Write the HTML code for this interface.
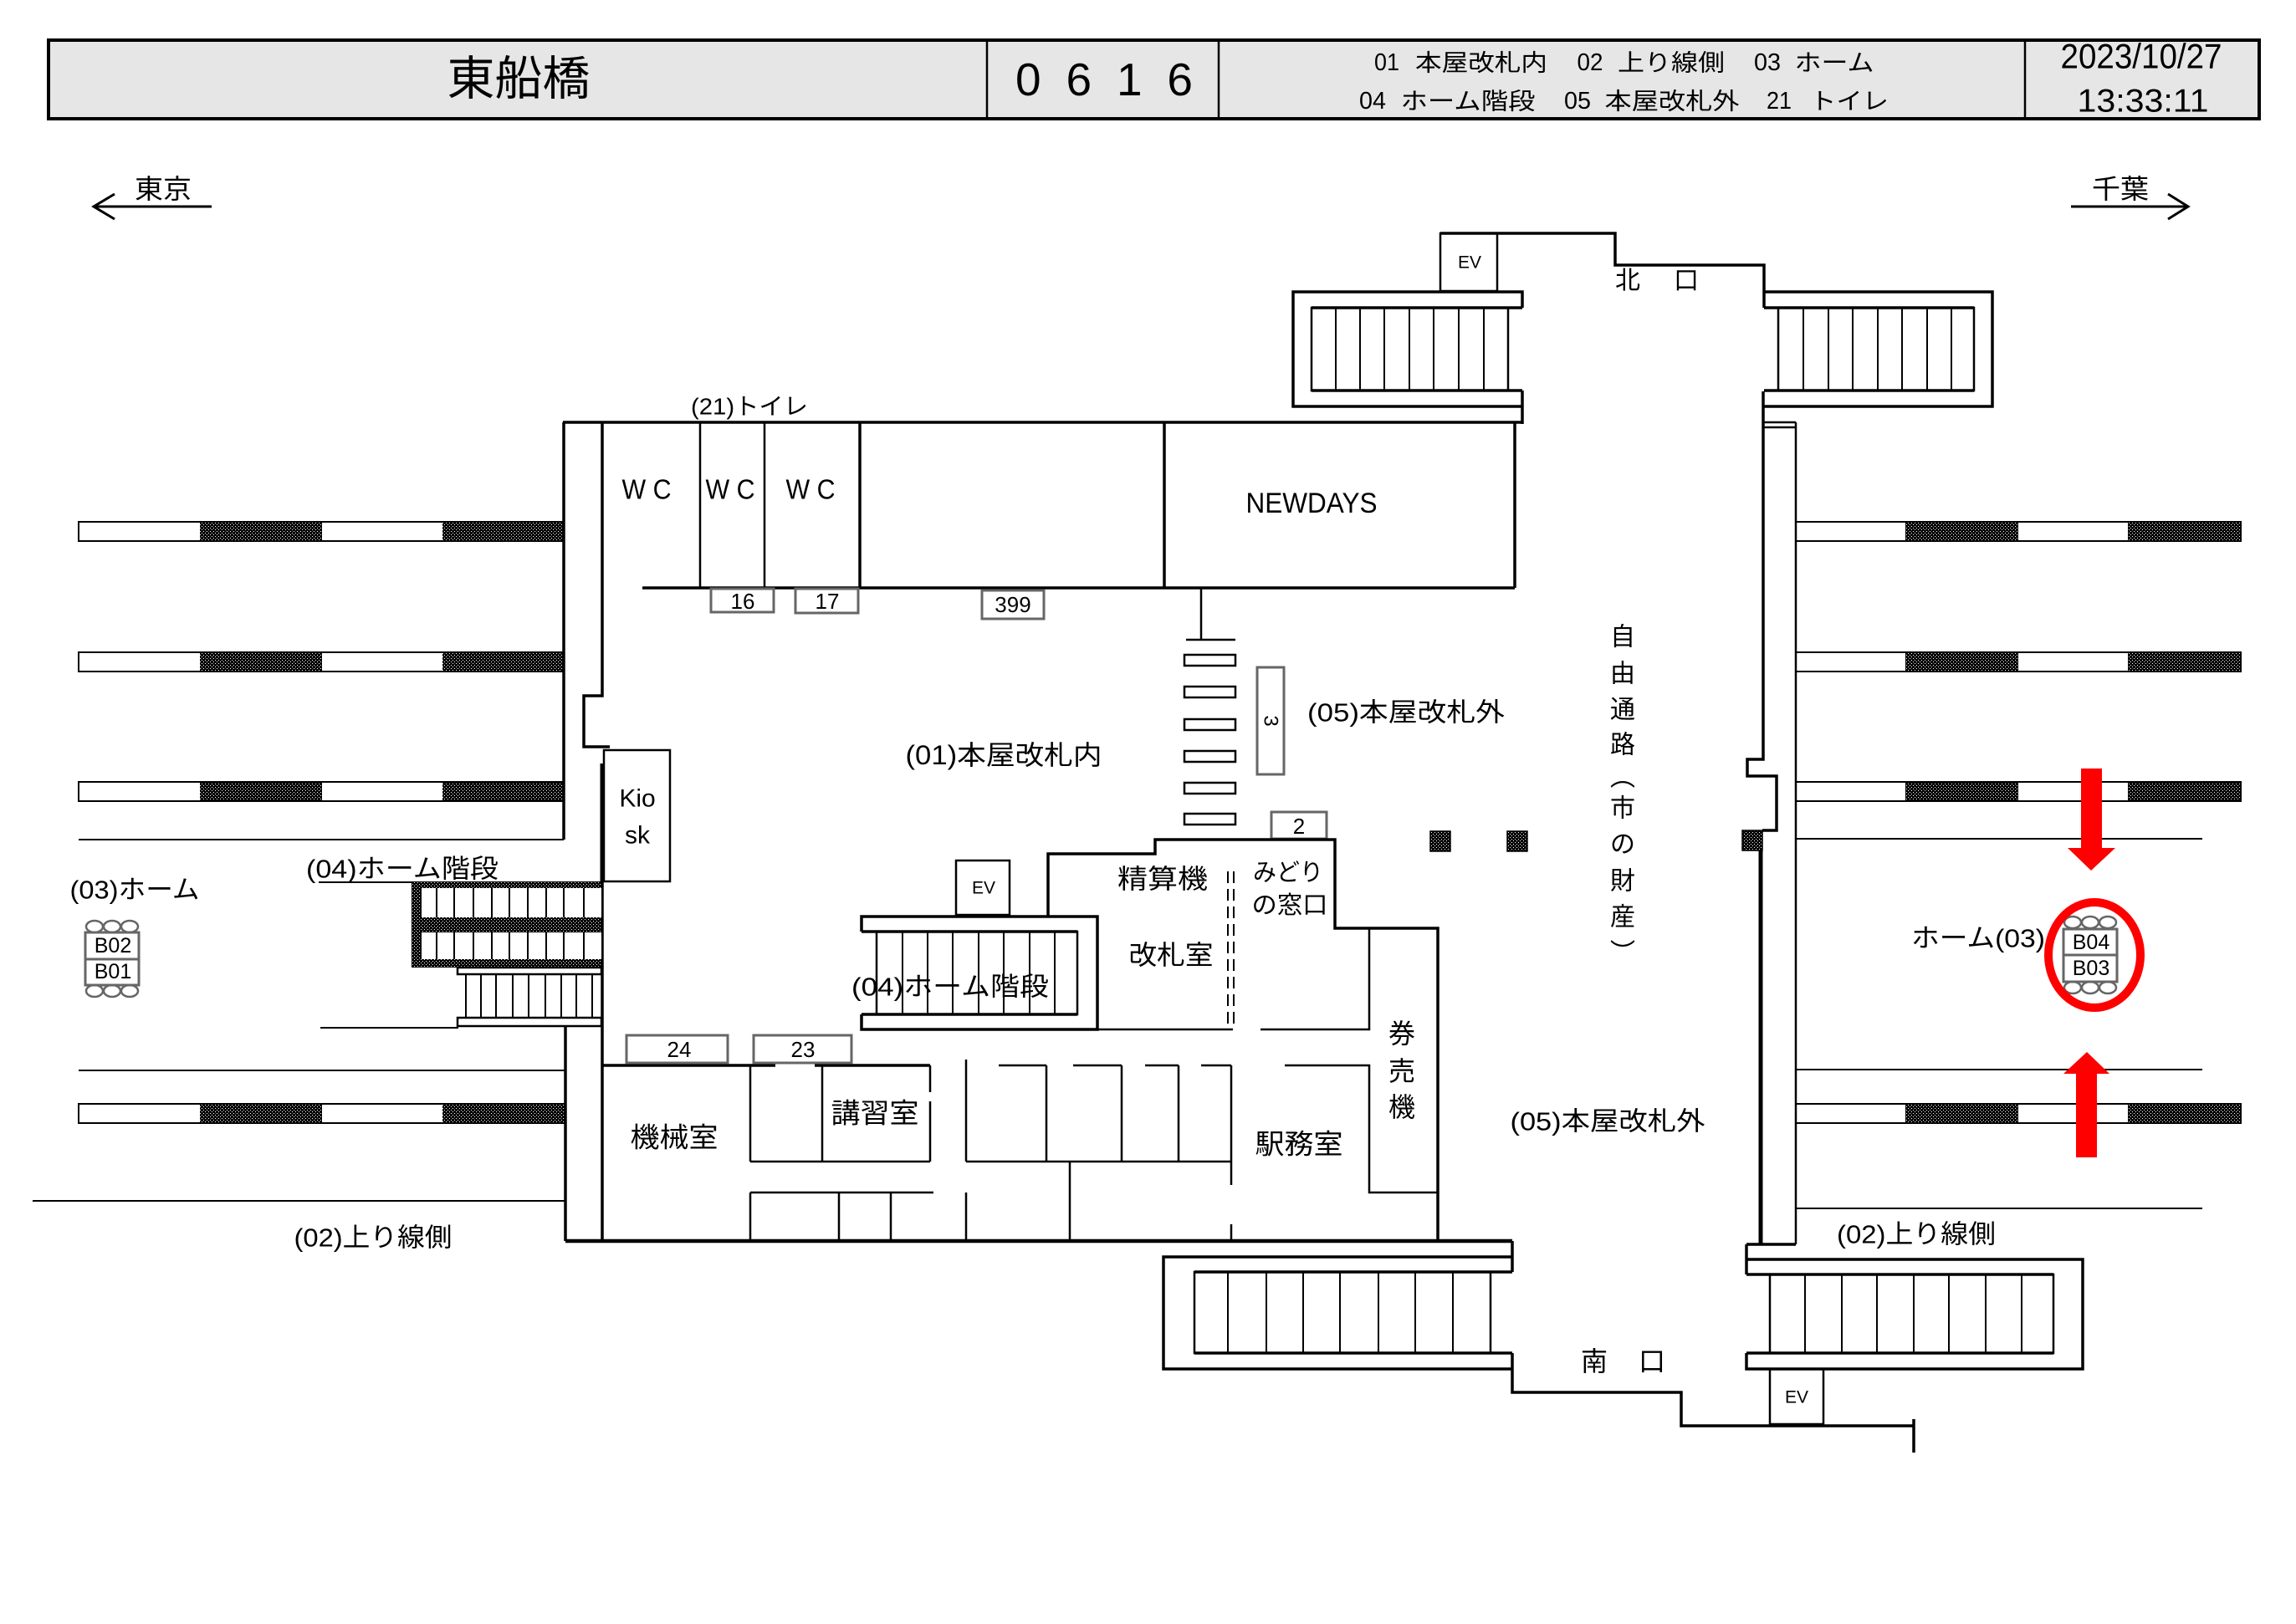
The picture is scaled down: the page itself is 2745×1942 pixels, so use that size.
<!DOCTYPE html>
<html><head><meta charset="utf-8"><style>
html,body{margin:0;padding:0;background:#fff;}
svg{display:block}
text{font-family:"Liberation Sans","Noto Sans CJK JP",sans-serif;fill:#000;text-anchor:middle;dominant-baseline:central;}
.w{stroke:#000;stroke-width:3.5;fill:none}
.n{stroke:#000;stroke-width:2.5;fill:none}
.nf{stroke:#000;stroke-width:2.5;fill:#fff}
.g{stroke:#666;stroke-width:3;fill:#fff}
.s{stroke:#000;stroke-width:2;fill:none}
</style></head><body>
<svg width="2745" height="1942" viewBox="0 0 2745 1942" xmlns="http://www.w3.org/2000/svg">
<defs>
<pattern id="h" width="4" height="4" patternUnits="userSpaceOnUse">
<rect width="4" height="4" fill="#000"/><rect x="1" y="1" width="1" height="1" fill="#fff"/><rect x="3" y="3" width="1" height="1" fill="#fff"/>
</pattern>
</defs>

<!-- HEADER -->
<rect x="58" y="48" width="2643" height="94" fill="#e6e6e6" stroke="#000" stroke-width="4"/>
<path class="n" d="M1180 48V142 M1457 48V142 M2421 48V142"/>
<text x="620" y="94" font-size="56" textLength="171" lengthAdjust="spacingAndGlyphs">東船橋</text>
<text x="1320" y="95" font-size="55" textLength="212" lengthAdjust="spacing">0616</text>
<g font-size="28">
<text x="1658" y="75" font-size="29" textLength="30" lengthAdjust="spacingAndGlyphs">01</text>
<text x="1771" y="75" textLength="158" lengthAdjust="spacingAndGlyphs">本屋改札内</text>
<text x="1901" y="75" font-size="29" textLength="31" lengthAdjust="spacingAndGlyphs">02</text>
<text x="1998" y="75" textLength="128" lengthAdjust="spacingAndGlyphs">上り線側</text>
<text x="2113" y="75" font-size="29" textLength="32" lengthAdjust="spacingAndGlyphs">03</text>
<text x="2193" y="75" textLength="95" lengthAdjust="spacingAndGlyphs">ホーム</text>
<text x="1641" y="121" font-size="29" textLength="32" lengthAdjust="spacingAndGlyphs">04</text>
<text x="1755" y="121" textLength="161" lengthAdjust="spacingAndGlyphs">ホーム階段</text>
<text x="1886" y="121" font-size="29" textLength="32" lengthAdjust="spacingAndGlyphs">05</text>
<text x="1999" y="121" textLength="161" lengthAdjust="spacingAndGlyphs">本屋改札外</text>
<text x="2127" y="121" font-size="29" textLength="30" lengthAdjust="spacingAndGlyphs">21</text>
<text x="2211" y="121" textLength="94" lengthAdjust="spacingAndGlyphs">トイレ</text>
</g>
<text x="2560" y="67" font-size="42" textLength="193" lengthAdjust="spacingAndGlyphs">2023/10/27</text>
<text x="2562" y="121" font-size="39" textLength="157" lengthAdjust="spacingAndGlyphs">13:33:11</text>

<!-- DIRECTION ARROWS -->
<path d="M112 247H253 M137 232L112 247L137 262" stroke="#000" stroke-width="3" fill="none"/>
<text x="195" y="226" font-size="32" textLength="68" lengthAdjust="spacingAndGlyphs">東京</text>
<path d="M2476 247H2616 M2592 232L2616 247L2592 262" stroke="#000" stroke-width="3" fill="none"/>
<text x="2535" y="226" font-size="32" textLength="68" lengthAdjust="spacingAndGlyphs">千葉</text>

<!-- LEFT PLATFORM BARS -->
<g>
<rect x="94" y="624" width="580" height="23" fill="#fff"/><rect x="239" y="624" width="146" height="23" fill="url(#h)"/><rect x="529" y="624" width="145" height="23" fill="url(#h)"/><rect x="94" y="624" width="580" height="23" class="s"/>
<rect x="94" y="780" width="580" height="23" fill="#fff"/><rect x="239" y="780" width="146" height="23" fill="url(#h)"/><rect x="529" y="780" width="145" height="23" fill="url(#h)"/><rect x="94" y="780" width="580" height="23" class="s"/>
<rect x="94" y="935" width="580" height="23" fill="#fff"/><rect x="239" y="935" width="146" height="23" fill="url(#h)"/><rect x="529" y="935" width="145" height="23" fill="url(#h)"/><rect x="94" y="935" width="580" height="23" class="s"/>
<rect x="94" y="1320" width="582" height="23" fill="#fff"/><rect x="239" y="1320" width="146" height="23" fill="url(#h)"/><rect x="529" y="1320" width="147" height="23" fill="url(#h)"/><rect x="94" y="1320" width="582" height="23" class="s"/>
</g>
<!-- RIGHT PLATFORM BARS -->
<g>
<rect x="2147" y="624" width="532" height="23" fill="#fff"/><rect x="2278" y="624" width="135" height="23" fill="url(#h)"/><rect x="2544" y="624" width="135" height="23" fill="url(#h)"/><rect x="2147" y="624" width="532" height="23" class="s"/>
<rect x="2147" y="780" width="532" height="23" fill="#fff"/><rect x="2278" y="780" width="135" height="23" fill="url(#h)"/><rect x="2544" y="780" width="135" height="23" fill="url(#h)"/><rect x="2147" y="780" width="532" height="23" class="s"/>
<rect x="2147" y="935" width="532" height="23" fill="#fff"/><rect x="2278" y="935" width="135" height="23" fill="url(#h)"/><rect x="2544" y="935" width="135" height="23" fill="url(#h)"/><rect x="2147" y="935" width="532" height="23" class="s"/>
<rect x="2147" y="1320" width="532" height="23" fill="#fff"/><rect x="2278" y="1320" width="135" height="23" fill="url(#h)"/><rect x="2544" y="1320" width="135" height="23" fill="url(#h)"/><rect x="2147" y="1320" width="532" height="23" class="s"/>
</g>
<path class="s" d="M2147 1003H2633 M2147 1279H2633 M2147 1445H2633"/>

<!-- LEFT LINES -->
<path class="s" d="M94 1004H674 M381 1055H492 M383 1229H548 M94 1280H676 M39 1436H676"/>

<!-- LEFT WALLS -->
<path class="w" d="M674 505V1004 M676 1227V1484 M720 505V832H698V893H729 M720 1040V1484"/>
<rect x="722" y="897" width="79" height="157" class="n"/>
<line x1="720" y1="913" x2="720" y2="1054" stroke="#000" stroke-width="5"/>
<path class="w" d="M673 505H1820"/>

<!-- WC / NEWDAYS -->
<path class="n" d="M837 505V703 M914 505V703"/>
<path class="w" d="M1028 505V703 M1392 505V703 M768 703H1811 M1811 505V703"/>
<rect class="g" x="850" y="704" width="75" height="28"/>
<rect class="g" x="951" y="704" width="75" height="29"/>
<rect class="g" x="1174" y="706" width="74" height="34"/>
<text x="888" y="719" font-size="26">16</text>
<text x="989" y="719" font-size="26">17</text>
<text x="1211" y="723" font-size="26">399</text>
<text x="896" y="486" font-size="28" textLength="140" lengthAdjust="spacingAndGlyphs">(21)トイレ</text>
<text x="773" y="585" font-size="33" textLength="59" lengthAdjust="spacingAndGlyphs">W C</text>
<text x="873" y="585" font-size="33" textLength="59" lengthAdjust="spacingAndGlyphs">W C</text>
<text x="969" y="585" font-size="33" textLength="59" lengthAdjust="spacingAndGlyphs">W C</text>
<text x="1568" y="602" font-size="34" textLength="157" lengthAdjust="spacingAndGlyphs">NEWDAYS</text>

<!-- GATES -->
<path class="n" d="M1436 703V765 M1418 765H1477"/>
<rect class="nf" x="1416" y="783" width="61" height="13"/>
<rect class="nf" x="1416" y="821" width="61" height="13"/>
<rect class="nf" x="1416" y="860" width="61" height="13"/>
<rect class="nf" x="1416" y="898" width="61" height="13"/>
<rect class="nf" x="1416" y="936" width="61" height="13"/>
<rect class="nf" x="1416" y="973" width="61" height="13"/>
<rect class="g" x="1503" y="798" width="32" height="128"/>
<text transform="translate(1519,862) rotate(90)" font-size="24">3</text>
<rect class="g" x="1520" y="971" width="66" height="32"/>
<text x="1553" y="988" font-size="26">2</text>

<!-- KIOSK & LABELS -->
<text x="762" y="955" font-size="30">Kio</text>
<text x="762" y="999" font-size="30">sk</text>
<text x="1200" y="903" font-size="32" textLength="235" lengthAdjust="spacingAndGlyphs">(01)本屋改札内</text>
<text x="1681" y="852" font-size="31" textLength="236" lengthAdjust="spacingAndGlyphs">(05)本屋改札外</text>
<text x="481" y="1039" font-size="31" textLength="230" lengthAdjust="spacingAndGlyphs">(04)ホーム階段</text>
<text x="161" y="1064" font-size="31" textLength="155" lengthAdjust="spacingAndGlyphs">(03)ホーム</text>
<text x="446" y="1480" font-size="31" textLength="189" lengthAdjust="spacingAndGlyphs">(02)上り線側</text>

<!-- LEFT HATCHED STAIR -->
<rect x="492" y="1054" width="227" height="103" fill="url(#h)"/>
<rect x="503" y="1062" width="216" height="35" fill="#fff"/>
<rect x="503" y="1115" width="216" height="32" fill="#fff"/>
<path class="s" d="M503 1062V1097 M522 1062V1097 M543 1062V1097 M566 1062V1097 M588 1062V1097 M609 1062V1097 M631 1062V1097 M653 1062V1097 M674 1062V1097 M698 1062V1097
M503 1115V1147 M522 1115V1147 M543 1115V1147 M566 1115V1147 M588 1115V1147 M609 1115V1147 M631 1115V1147 M653 1115V1147 M674 1115V1147 M698 1115V1147"/>
<rect class="nf" x="547" y="1157" width="172" height="8"/>
<rect class="nf" x="547" y="1217" width="172" height="10"/>
<path class="s" d="M557 1165V1217 M575 1165V1217 M593 1165V1217 M613 1165V1217 M632 1165V1217 M652 1165V1217 M671 1165V1217 M689 1165V1217 M708 1165V1217"/>

<!-- B02/B01 ICON -->
<g stroke="#666" stroke-width="2.5" fill="#fff">
<ellipse cx="113" cy="1108" rx="10" ry="7"/><ellipse cx="134" cy="1108" rx="10" ry="7"/><ellipse cx="155" cy="1108" rx="10" ry="7"/>
<ellipse cx="113" cy="1185" rx="10" ry="7"/><ellipse cx="134" cy="1185" rx="10" ry="7"/><ellipse cx="155" cy="1185" rx="10" ry="7"/>
<rect x="102" y="1115" width="64" height="63" stroke-width="3"/>
<line x1="102" y1="1147" x2="166" y2="1147" stroke-width="3"/>
</g>
<text x="135" y="1131" font-size="25">B02</text>
<text x="135" y="1162" font-size="25">B01</text>

<!-- CENTER EV & STAIR -->
<rect class="n" x="1143" y="1029" width="64" height="65"/>
<text x="1176" y="1062" font-size="21">EV</text>
<path class="w" d="M1030 1114V1096H1312V1231H1030V1213 M1030 1114H1288 M1030 1213H1288"/>
<rect class="n" x="1048" y="1114" width="240" height="99"/>
<path class="s" d="M1079 1114V1213 M1109 1114V1213 M1139 1114V1213 M1170 1114V1213 M1200 1114V1213 M1231 1114V1213 M1261 1114V1213"/>
<text x="1136" y="1180" font-size="31" textLength="236" lengthAdjust="spacingAndGlyphs">(04)ホーム階段</text>

<!-- 精算機 / 改札室 / 券売機 -->
<path class="w" d="M1253 1096V1021H1381V1004H1596V1110H1719V1484"/>
<path d="M1468 1042V1228 M1475 1042V1228" stroke="#000" stroke-width="2" stroke-dasharray="14 7" fill="none"/>
<path class="n" d="M1312 1231H1474 M1507 1231H1637V1110 M1536 1274H1637V1426H1719"/>
<text x="1390" y="1051" font-size="32" textLength="108" lengthAdjust="spacingAndGlyphs">精算機</text>
<text x="1540" y="1044" font-size="29" textLength="84" lengthAdjust="spacingAndGlyphs">みどり</text>
<text x="1542" y="1083" font-size="29" textLength="91" lengthAdjust="spacingAndGlyphs">の窓口</text>
<text x="1400" y="1142" font-size="32" textLength="101" lengthAdjust="spacingAndGlyphs">改札室</text>
<text x="1676" y="1236" font-size="32">券</text>
<text x="1676" y="1281" font-size="32">売</text>
<text x="1676" y="1324" font-size="32">機</text>

<!-- ROOMS -->
<path class="w" d="M720 1274H927 M974 1274H1112"/>
<rect class="g" x="749" y="1238" width="121" height="33"/>
<rect class="g" x="901" y="1238" width="117" height="33"/>
<text x="812" y="1255" font-size="26">24</text>
<text x="960" y="1255" font-size="26">23</text>
<path class="n" d="M897 1274V1389 M983 1274V1389 M1112 1274V1306 M1112 1317V1389 M897 1389H1112 M897 1426H1116 M897 1426V1484 M1003 1426V1484 M1065 1426V1484 M1155 1267V1389 M1155 1426V1484 M1194 1274H1251 M1283 1274H1341 M1369 1274H1409 M1436 1274H1472 M1251 1274V1389 M1341 1274V1389 M1409 1274V1389 M1472 1274V1417 M1472 1464V1484 M1155 1389H1472 M1279 1389V1484"/>
<text x="806" y="1360" font-size="33" textLength="105" lengthAdjust="spacingAndGlyphs">機械室</text>
<text x="1046" y="1331" font-size="33" textLength="105" lengthAdjust="spacingAndGlyphs">講習室</text>
<text x="1553" y="1368" font-size="33" textLength="105" lengthAdjust="spacingAndGlyphs">駅務室</text>
<text x="1922" y="1341" font-size="31" textLength="233" lengthAdjust="spacingAndGlyphs">(05)本屋改札外</text>
<path d="M676 1484H1808" stroke="#000" stroke-width="4.5" fill="none"/>

<!-- SOUTH-LEFT STAIR -->
<path class="w" d="M1808 1484V1521 M1808 1503H1391V1637H1808 M1428 1521H1808 M1428 1618H1808 M1808 1618V1665H2010V1705H2288 M2288 1697V1737"/>
<rect class="n" x="1428" y="1521" width="354" height="97"/>
<path class="s" d="M1468 1521V1618 M1514 1521V1618 M1558 1521V1618 M1602 1521V1618 M1648 1521V1618 M1692 1521V1618 M1737 1521V1618"/>
<text x="1906" y="1628" font-size="32">南</text>
<text x="1975" y="1628" font-size="32">口</text>

<!-- SOUTH-RIGHT STAIR & RIGHT WALL -->
<path class="w" d="M2108 468V908H2089V928H2124V993H2107"/>
<path d="M2105 1017V1488" stroke="#000" stroke-width="5" fill="none"/>
<path class="n" d="M2147 505V1488 M2108 505H2147 M2108 511H2147"/>
<path class="w" d="M2088 1488H2147 M2088 1488V1524 M2088 1506H2490V1637H2088V1618 M2088 1524H2455 M2088 1618H2455"/>
<rect class="n" x="2116" y="1524" width="339" height="94"/>
<path class="s" d="M2158 1524V1618 M2202 1524V1618 M2244 1524V1618 M2288 1524V1618 M2330 1524V1618 M2374 1524V1618 M2417 1524V1618"/>
<rect class="n" x="2116" y="1637" width="64" height="66"/>
<text x="2148" y="1671" font-size="21">EV</text>
<text x="2291" y="1476" font-size="31" textLength="190" lengthAdjust="spacingAndGlyphs">(02)上り線側</text>

<!-- PILLARS -->
<rect x="1710" y="994" width="24" height="24" fill="url(#h)" stroke="#000" stroke-width="1.5"/>
<rect x="1802" y="994" width="24" height="24" fill="url(#h)" stroke="#000" stroke-width="1.5"/>
<rect x="2083" y="993" width="24" height="24" fill="url(#h)" stroke="#000" stroke-width="1.5"/>

<!-- NORTH -->
<rect class="n" x="1722" y="279" width="68" height="69"/>
<text x="1757" y="314" font-size="21">EV</text>
<path class="w" d="M1722 279H1931V317H2109V368"/>
<path class="w" d="M1820 368V349H1546V486H1820 M1568 368H1820 M1568 467H1820 M1820 467V507"/>
<rect class="n" x="1568" y="368" width="235" height="99"/>
<path class="s" d="M1597 368V467 M1626 368V467 M1655 368V467 M1685 368V467 M1714 368V467 M1744 368V467 M1774 368V467"/>
<path class="w" d="M2109 349H2382V486H2109 M2109 368H2360 M2109 467H2360"/>
<rect class="n" x="2126" y="368" width="234" height="99"/>
<path class="s" d="M2156 368V467 M2186 368V467 M2215 368V467 M2245 368V467 M2274 368V467 M2304 368V467 M2333 368V467"/>
<text x="1946" y="336" font-size="30">北</text>
<text x="2016" y="336" font-size="30">口</text>

<!-- VERTICAL TEXT -->
<g font-size="30">
<text x="1940" y="762">自</text>
<text x="1940" y="806">由</text>
<text x="1940" y="849">通</text>
<text x="1940" y="891">路</text>
<text x="1940" y="930">︵</text>
<text x="1940" y="967">市</text>
<text x="1940" y="1010">の</text>
<text x="1940" y="1054">財</text>
<text x="1940" y="1097">産</text>
<text x="1940" y="1140">︶</text>
</g>

<!-- RIGHT PLATFORM LABEL & ICON -->
<text x="2365" y="1122" font-size="31" textLength="160" lengthAdjust="spacingAndGlyphs">ホーム(03)</text>
<g stroke="#666" stroke-width="2.5" fill="#fff">
<ellipse cx="2478" cy="1103" rx="10" ry="7"/><ellipse cx="2499" cy="1103" rx="10" ry="7"/><ellipse cx="2520" cy="1103" rx="10" ry="7"/>
<ellipse cx="2478" cy="1181" rx="10" ry="7"/><ellipse cx="2499" cy="1181" rx="10" ry="7"/><ellipse cx="2520" cy="1181" rx="10" ry="7"/>
<rect x="2467" y="1111" width="64" height="63" stroke-width="3"/>
<line x1="2467" y1="1142" x2="2531" y2="1142" stroke-width="3"/>
</g>
<text x="2500" y="1127" font-size="25">B04</text>
<text x="2500" y="1158" font-size="25">B03</text>

<!-- RED MARKERS -->
<polygon fill="#f00" points="2488,919 2513,919 2513,1014 2529,1014 2500,1041 2472,1014 2488,1014"/>
<polygon fill="#f00" points="2495,1258 2522,1284 2507,1284 2507,1384 2482,1384 2482,1284 2467,1284"/>
<ellipse cx="2504" cy="1142" rx="55" ry="63" fill="none" stroke="#f00" stroke-width="10"/>
</svg>
</body></html>
